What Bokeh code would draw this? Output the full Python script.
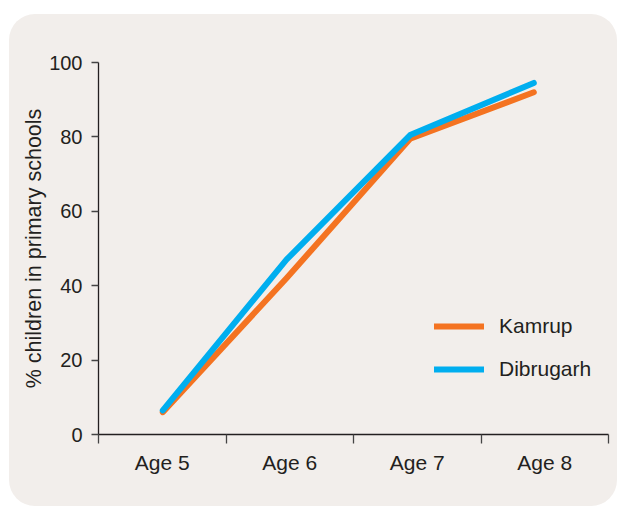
import numpy as np
from bokeh.plotting import figure
from bokeh.models import Range1d, FixedTicker, CustomJSTickFormatter
from bokeh.embed import file_html
from bokeh.resources import INLINE

# ---- data ----
ages = ["Age 5", "Age 6", "Age 7", "Age 8"]
kamrup = [6, 42, 79.5, 92]
dibrugarh = [6.5, 47, 80.5, 94.5]
y_ticks = [0, 20, 40, 60, 80, 100]

# ---- style ----
BG = "#f2eeeb"
TXT = "#231f20"
ORANGE = "#f47321"
BLUE = "#00aeef"
FONT = "Liberation Sans"

n = len(ages)
xs = [i + 0.5 for i in range(n)]
x_start, x_end = -0.02, n * 1.031 - 0.02
bounds = list(np.linspace(x_start, x_end, n + 1))
mids = [(bounds[i] + bounds[i + 1]) / 2 for i in range(n)]

p = figure(width=608, height=492, output_backend="svg", toolbar_location=None,
           x_range=Range1d(x_start, x_end), y_range=Range1d(0, 100),
           min_border_top=48, min_border_bottom=72, min_border_left=89, min_border_right=9)
p.margin = (14, 0, 0, 9)
p.styles = {"border-radius": "26px", "overflow": "hidden", "background-color": BG}
p.border_fill_color = None
p.background_fill_color = None
p.outline_line_color = None
p.grid.visible = False

p.line(xs, kamrup, line_color=ORANGE, line_width=6, line_cap="round", line_join="round",
       legend_label="Kamrup")
p.line(xs, dibrugarh, line_color=BLUE, line_width=6, line_cap="round", line_join="round",
       legend_label="Dibrugarh")

# x axis
xa = p.xaxis[0]
xa.ticker = FixedTicker(ticks=mids, minor_ticks=bounds)
xa.formatter = CustomJSTickFormatter(args=dict(labels=ages), code="return labels[index];")
xa.major_tick_out = 0
xa.major_tick_in = 0
xa.minor_tick_out = 9
xa.minor_tick_in = 0
xa.minor_tick_line_color = "#444444"
xa.minor_tick_line_width = 1.3
xa.axis_line_color = TXT
xa.axis_line_width = 1.3
xa.major_label_standoff = 7
xa.major_label_text_font = FONT
xa.major_label_text_font_size = "21px"
xa.major_label_text_color = TXT

# y axis
ya = p.yaxis[0]
ya.ticker = FixedTicker(ticks=y_ticks)
ya.minor_tick_line_color = None
ya.major_tick_out = 7
ya.major_tick_in = 0
ya.major_tick_line_color = "#444444"
ya.major_tick_line_width = 1.3
ya.axis_line_color = TXT
ya.axis_line_width = 1.3
ya.major_label_standoff = 9
ya.major_label_text_font = FONT
ya.major_label_text_font_size = "20px"
ya.major_label_text_color = TXT
ya.axis_label = "% children in primary schools"
ya.axis_label_text_font = FONT
ya.axis_label_text_font_size = "21.5px"
ya.axis_label_text_font_style = "normal"
ya.axis_label_text_color = TXT
ya.axis_label_standoff = 0

# legend
lg = p.legend[0]
lg.location = (336, 53)
lg.background_fill_alpha = 0
lg.border_line_color = None
lg.padding = 0
lg.margin = 0
lg.spacing = 19
lg.glyph_width = 50
lg.glyph_height = 20
lg.label_height = 20
lg.label_standoff = 15
lg.label_text_font = FONT
lg.label_text_font_size = "21px"
lg.label_text_color = TXT

open("out.html", "w").write(file_html(p, INLINE))
